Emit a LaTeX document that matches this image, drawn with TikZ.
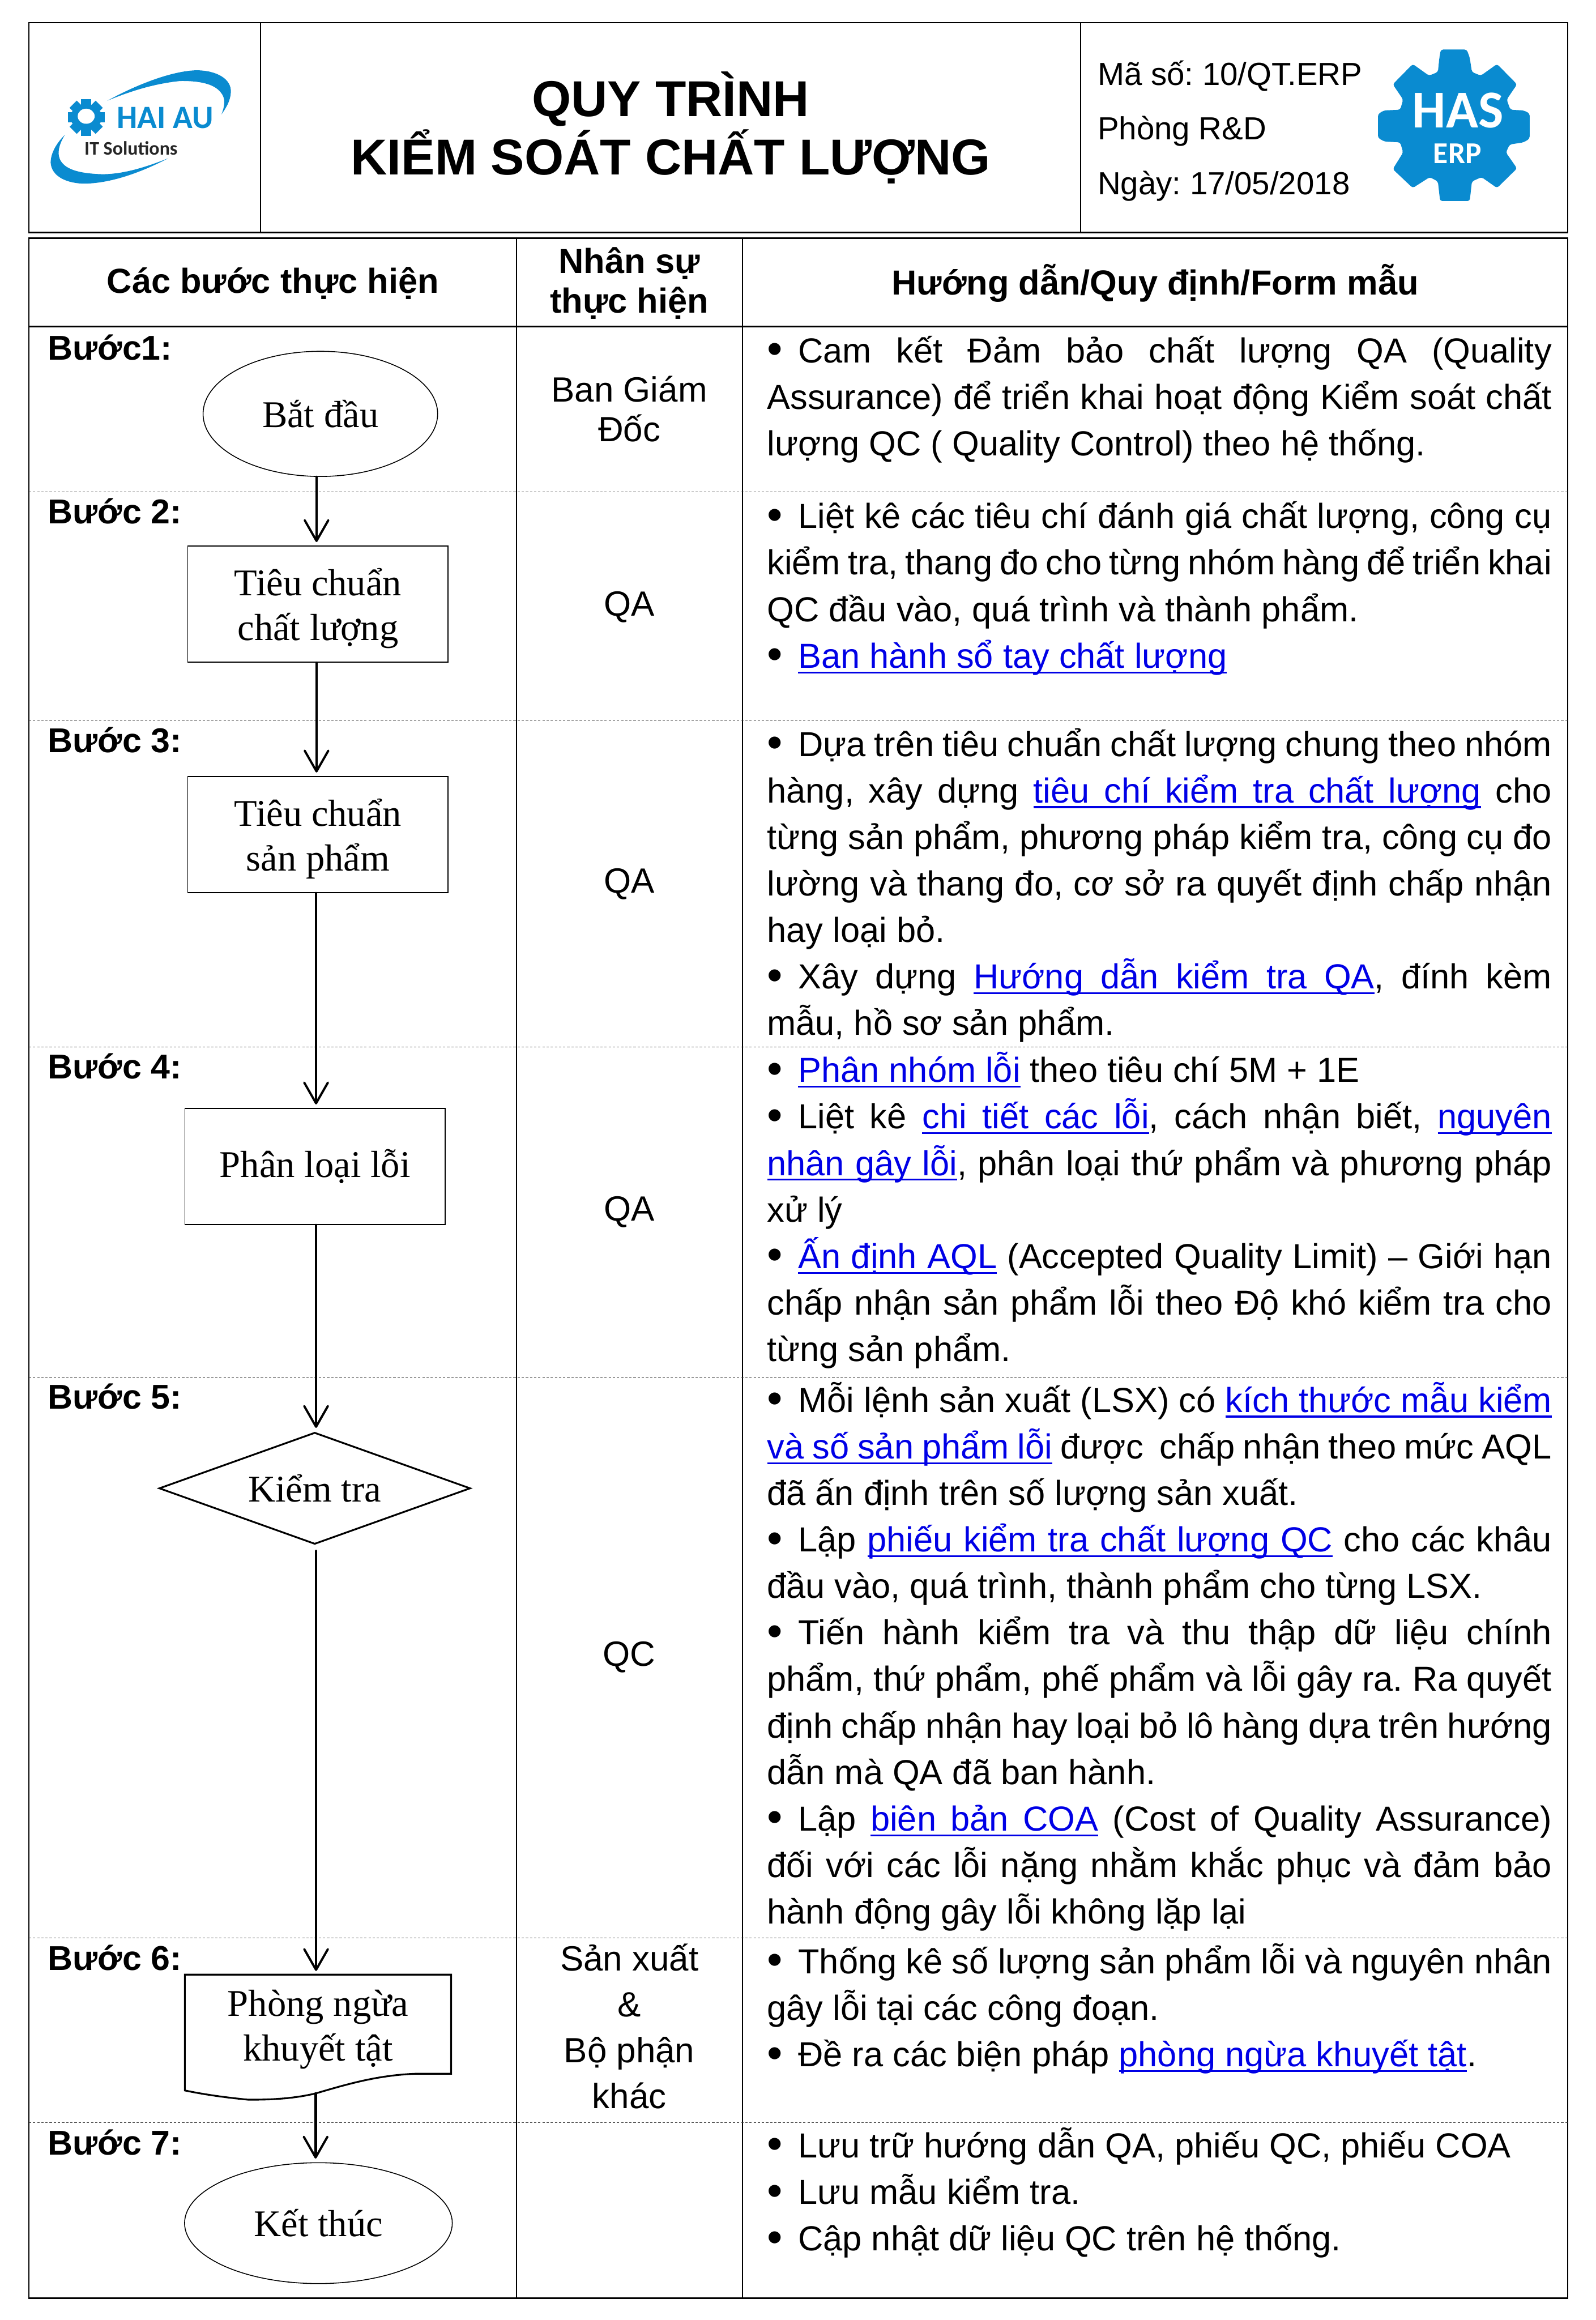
\documentclass[tikz,border=0pt]{standalone}
\usepackage{fontspec}
\setmainfont{Liberation Sans}
\newfontfamily\flowfont{Liberation Serif}
\newfontfamily\logofont{Carlito}
\usetikzlibrary{arrows.meta,shapes.geometric}
\definecolor{logoblue}{HTML}{0A8BD0}
\definecolor{linkblue}{HTML}{0000E6}
\frenchspacing
\tikzset{
	x=1pt,y=-1pt,
	rule/.style={line width=1pt},
	thinrule/.style={line width=0.8pt},
	dashrule/.style={line width=0.4pt,dash pattern=on 1.6pt off 1.2pt,draw=black!80},
	flowarrow/.style={line width=1.7pt,line cap=round,-{Straight Barb[length=14pt,width=16pt,line width=1.5pt,round]},shorten >=2.5pt},
	flowbox/.style={draw=black,line width=0.6pt,minimum width=176pt,minimum height=78.5pt,align=center,font=\fontsize{25.5}{30.2}\selectfont\flowfont},
	flowoval/.style={flowbox,shape=ellipse,inner sep=0pt},
	flowtext/.style={align=center,font=\fontsize{25.5}{30.2}\selectfont\flowfont,inner sep=0pt},
	steplabel/.style={anchor=base west,inner sep=0pt,font=\fontsize{23.3}{28}\selectfont\bfseries},
	headtext/.style={align=center,inner sep=0pt,font=\fontsize{23.5}{27}\selectfont\bfseries},
	whotext/.style={align=center,inner sep=0pt,font=\fontsize{23.7}{31}\selectfont},
	metatext/.style={anchor=base west,inner sep=0pt,font=\fontsize{21.6}{28}\selectfont},
	guidetext/.style={anchor=north west,inner sep=0pt,text width=530.5pt,align=justify,font=\fontsize{23.5}{31.45}\selectfont},
}
% underlined link text, word by word so the spaces can stretch
\newcommand{\linkword}[1]{\sbox0{#1}\rlap{\usebox0}\rule[-3.6pt]{\wd0}{1.2pt}}
\def\linkwords#1 #2\relax{\linkword{#1}\ifx\relax#2\relax\else\leaders\hrule height -2.4pt depth 3.6pt\hskip 0.278em plus 0.139em minus 0.07em\relax\linkwords#2\relax\fi}
\newcommand{\hlink}[1]{{\color{linkblue}\linkwords#1 \relax}}
\newcommand{\gbul}{\leavevmode\hbox to 21pt{\raisebox{-1pt}{\fontsize{30}{30}\selectfont\textbullet}\hfil}}
\newcommand{\flowlift}{\rule{0pt}{24pt}}
\newcommand{\guidecell}[3]{\node[guidetext] at (518.5,#1) (#2) {\strut #3}}
\newcommand{\stepmark}[3]{\node[steplabel] at (32.3,#1) (#2) {#3}}
\newcommand{\whocell}[4][]{\node[whotext,#1] at (425.5,#2) (#3) {#4}}
\begin{document}
\begin{tikzpicture}
	\useasboundingbox (0,0) rectangle (1079,1568.5);
	% title block
	\draw[rule] (19.5,15.3) rectangle (1060,157.3);
	\draw[thinrule] (176,15.3) -- (176,157.3) (730.5,15.3) -- (730.5,157.3);
	\node[headtext,font=\fontsize{34.1}{39.5}\selectfont\bfseries] at (453.5,86.5) (title) {QUY TRÌNH\\KIỂM SOÁT CHẤT LƯỢNG};
	\node[metatext] at (742,57.5) (code) {Mã số: 10/QT.ERP};
	\node[metatext] at (742,94.5) (dept) {Phòng R\&D};
	\node[metatext] at (742,131.5) (date) {Ngày: 17/05/2018};
	% left logo
	\begin{scope}[shift={(15.37,15.37)},x=0.1144pt,y=-0.098pt]
		\fill[logoblue] (500,538) .. controls (700,410) and (900,330) .. (1030,328) .. controls (1150,330) and (1235,390) .. (1230,480) .. controls (1228,540) and (1200,590) .. (1175,632) .. controls (1195,570) and (1200,520) .. (1170,480) .. controls (1130,420) and (1040,400) .. (930,402) .. controls (780,420) and (640,470) .. (500,538) -- cycle;
		\fill[logoblue] (248,775) .. controls (200,830) and (165,900) .. (165,965) .. controls (170,1060) and (260,1110) .. (370,1110) .. controls (540,1105) and (720,1020) .. (860,935) .. controls (720,1000) and (590,1045) .. (470,1045) .. controls (330,1040) and (215,1010) .. (212,900) .. controls (212,860) and (225,820) .. (248,775) -- cycle;
		\foreach \ang in {0,45,...,315}
			\fill[logoblue,rotate around={\ang:(375,652)}] (345,525) rectangle (405,600);
		\fill[logoblue] (375,652) ellipse [x radius=92,y radius=92];
		\fill[white] (375,645) ellipse [x radius=50,y radius=52];
		\node[text=logoblue,inner sep=0pt,font=\fontsize{22}{24}\selectfont\logofont\bfseries] at (842,658) (haiau) {HAI AU};
		\node[text=black!85,inner sep=0pt,font=\fontsize{13}{14}\selectfont\logofont\bfseries] at (640,866) (itsol) {IT Solutions};
	\end{scope}
	% right logo
	\begin{scope}[shift={(922.2,15.37)},x=0.1pt,y=-0.098pt]
		\fill[logoblue,rounded corners=1.5pt] (520,185) -- (695,185) -- (715,240) -- (730,340) -- (790,365) -- (900,285) -- (1035,425) -- (965,530) -- (990,600) -- (1080,605) -- (1120,625) -- (1120,800) -- (1080,825) -- (985,840) -- (960,895) -- (1035,1005) -- (900,1140) -- (795,1065) -- (730,1095) -- (715,1230) -- (515,1230) -- (500,1095) -- (445,1065) -- (330,1140) -- (195,1010) -- (265,895) -- (245,825) -- (140,820) -- (95,795) -- (95,630) -- (135,605) -- (245,600) -- (265,530) -- (195,425) -- (330,285) -- (440,365) -- (500,340) -- (510,240) -- cycle;
		\node[text=white,inner sep=0pt,font=\fontsize{36}{38}\selectfont\logofont\bfseries] at (635,605) (has) {HAS};
		\node[text=white,inner sep=0pt,font=\fontsize{20.5}{22}\selectfont\logofont\bfseries] at (632,902) (erp) {ERP};
	\end{scope}
	% table frame
	\draw[rule] (19.5,161) rectangle (1060,1553.7);
	\draw[rule] (19.5,220.8) -- (1060,220.8);
	\draw[thinrule] (349.3,161) -- (349.3,1553.7) (502,161) -- (502,1553.7);
	\foreach \ypos in {332.7,486.8,708,931,1310.2,1435}
		\draw[dashrule] (19.5,\ypos) -- (1060,\ypos);
	\node[headtext] at (184.5,191.5) (headsteps) {Các bước thực hiện};
	\node[headtext] at (425.5,191.5) (headwho) {Nhân sự\\thực hiện};
	\node[headtext] at (781,191.5) (headguide) {Hướng dẫn/Quy định/Form mẫu};
	% steps
	\stepmark{243.2}{step1}{Bước1:};
	\stepmark{354.2}{step2}{Bước 2:};
	\stepmark{508.6}{step3}{Bước 3:};
	\stepmark{729.4}{step4}{Bước 4:};
	\stepmark{952.5}{step5}{Bước 5:};
	\stepmark{1331.9}{step6}{Bước 6:};
	\stepmark{1457}{step7}{Bước 7:};
	% flow
	\node[flowoval,minimum width=158.6pt,minimum height=84.6pt] at (216.6,279.8) (start) {Bắt đầu};
	\node[flowbox] at (215,408.5) (standard) {\flowlift Tiêu chuẩn\\chất lượng};
	\node[flowbox] at (215,564.3) (product) {\flowlift Tiêu chuẩn\\sản phẩm};
	\node[flowbox] at (213,788.7) (defect) {Phân loại lỗi};
	\node[draw=black,line width=1.2pt,shape=diamond,minimum width=210.5pt,minimum height=75.5pt,inner sep=0pt,label={[flowtext]center:Kiểm tra}] at (212.8,1006.2) (check) {};
	\coordinate (prevbot) at (213.4,1415.3);
	\draw[line width=1.2pt] (125,1335) -- (305,1335) -- (305,1402) -- (281,1402) .. controls (255,1403) and (235,1409) .. (213.4,1415.3) .. controls (200,1418.5) and (185,1419.7) .. (167.5,1419.5) .. controls (152,1418) and (138,1416) .. (125,1413.3) -- cycle;
	\coordinate (prevtop) at (213.7,1335);
	\node[flowtext] at (215,1372) (prevent) {Phòng ngừa\\khuyết tật};
	\node[flowoval,minimum width=181pt,minimum height=81.7pt] at (215.3,1503) (finish) {Kết thúc};
	\draw[flowarrow] ([xshift=-1pt]standard.north |- start.south) -- ([xshift=-1pt]standard.north);
	\draw[flowarrow] ([xshift=-1pt]standard.south) -- ([xshift=-1pt]product.north);
	\draw[flowarrow] ([xshift=0.7pt]defect.north |- product.south) -- ([xshift=0.7pt]defect.north);
	\draw[flowarrow] ([xshift=0.9pt]check.north |- defect.south) -- ([xshift=0.9pt]check.north);
	\draw[flowarrow,shorten <=4pt] (prevtop |- check.south) -- (prevtop);
	\draw[flowarrow] (prevbot) -- (prevbot |- finish.north);
	% who
	\whocell[font=\fontsize{23.7}{27}\selectfont]{276.5}{who1}{Ban Giám\\Đốc};
	\whocell{410.5}{who2}{QA};
	\whocell{597.5}{who3}{QA};
	\whocell{819.5}{who4}{QA};
	\whocell{1120.5}{who5}{QC};
	\whocell{1370}{who6}{Sản xuất\\\&\\Bộ phận\\khác};
	% guide text
	\guidecell{223}{guide1}{\gbul Cam kết Đảm bảo chất lượng QA (Quality\linebreak Assurance) để triển khai hoạt động Kiểm soát chất\linebreak lượng QC ( Quality Control) theo hệ thống.};
	\guidecell{335}{guide2}{\gbul Liệt kê các tiêu chí đánh giá chất lượng, công cụ\linebreak kiểm tra, thang đo cho từng nhóm hàng để triển khai\linebreak QC đầu vào, quá trình và thành phẩm.\par
	\gbul \hlink{Ban hành sổ tay chất lượng}};
	\guidecell{489}{guide3}{\gbul Dựa trên tiêu chuẩn chất lượng chung theo nhóm\linebreak hàng, xây dựng \hlink{tiêu chí kiểm tra chất lượng} cho\linebreak từng sản phẩm, phương pháp kiểm tra, công cụ đo\linebreak lường và thang đo, cơ sở ra quyết định chấp nhận\linebreak hay loại bỏ.\par
	\gbul Xây dựng \hlink{Hướng dẫn kiểm tra QA}, đính kèm\linebreak mẫu, hồ sơ sản phẩm.};
	\guidecell{709.5}{guide4}{\gbul \hlink{Phân nhóm lỗi} theo tiêu chí 5M + 1E\par
	\gbul Liệt kê \hlink{chi tiết các lỗi}, cách nhận biết, \hlink{nguyên}\linebreak \hlink{nhân gây lỗi}, phân loại thứ phẩm và phương pháp\linebreak xử lý\par
	\gbul \hlink{Ấn định AQL} (Accepted Quality Limit) – Giới hạn\linebreak chấp nhận sản phẩm lỗi theo Độ khó kiểm tra cho\linebreak từng sản phẩm.};
	\guidecell{932.5}{guide5}{\gbul Mỗi lệnh sản xuất (LSX) có \hlink{kích thước mẫu kiểm}\linebreak \hlink{và số sản phẩm lỗi} được\ \ chấp nhận theo mức AQL\linebreak đã ấn định trên số lượng sản xuất.\par
	\gbul Lập \hlink{phiếu kiểm tra chất lượng QC} cho các khâu\linebreak đầu vào, quá trình, thành phẩm cho từng LSX.\par
	\gbul Tiến hành kiểm tra và thu thập dữ liệu chính\linebreak phẩm, thứ phẩm, phế phẩm và lỗi gây ra. Ra quyết\linebreak định chấp nhận hay loại bỏ lô hàng dựa trên hướng\linebreak dẫn mà QA đã ban hành.\par
	\gbul Lập \hlink{biên bản COA} (Cost of Quality Assurance)\linebreak đối với các lỗi nặng nhằm khắc phục và đảm bảo\linebreak hành động gây lỗi không lặp lại};
	\guidecell{1312}{guide6}{\gbul Thống kê số lượng sản phẩm lỗi và nguyên nhân\linebreak gây lỗi tại các công đoạn.\par
	\gbul Đề ra các biện pháp \hlink{phòng ngừa khuyết tật}.};
	\guidecell{1436.5}{guide7}{\gbul Lưu trữ hướng dẫn QA, phiếu QC, phiếu COA\par
	\gbul Lưu mẫu kiểm tra.\par
	\gbul Cập nhật dữ liệu QC trên hệ thống.};
\end{tikzpicture}
\end{document}
